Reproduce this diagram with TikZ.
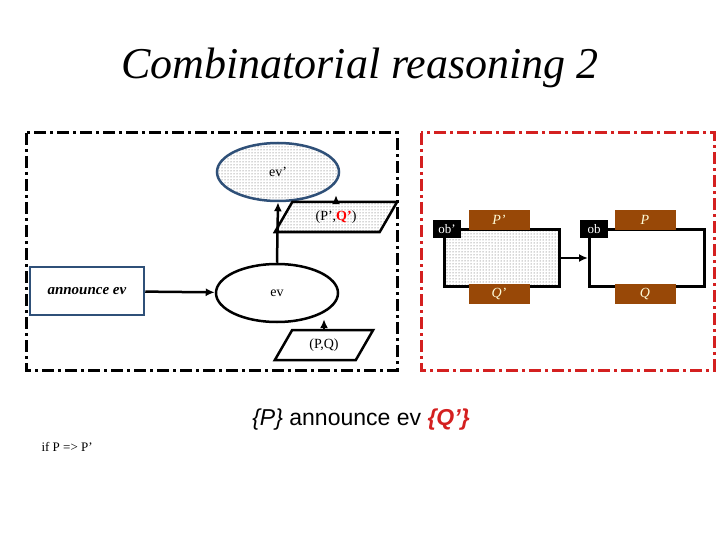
\documentclass[tikz,border=0pt]{standalone}
\usepackage{fontspec}
\setmainfont{Liberation Serif}
\newfontfamily\arialfont{Liberation Sans}
\usetikzlibrary{positioning}
\usetikzlibrary{shapes.geometric}
\usetikzlibrary{patterns}
\usetikzlibrary{arrows.meta}
\definecolor{boxblue}{HTML}{2F5078}
\definecolor{brownlab}{HTML}{984807}
\definecolor{redline}{HTML}{D42020}
\tikzset{
	frame/.style={line width=3pt,dash pattern=on 12pt off 4pt on 3pt off 4pt},
	dotfill/.style={pattern=dots,pattern color=black!70},
	event/.style={draw,ellipse,line width=2.5pt,minimum width=122pt,minimum height=58pt,font=\fontsize{14}{16}\selectfont},
	para/.style={draw,trapezium,trapezium left angle=60,trapezium right angle=120,line width=2.5pt,minimum width=92pt,minimum height=30pt,inner sep=1pt,font=\fontsize{14}{16}\selectfont},
	cond/.style={fill=brownlab,text=yellow!15,font=\itshape\fontsize{14}{16}\selectfont,minimum width=61pt,minimum height=20pt,inner sep=0pt},
	tag/.style={fill=black,text=white,font=\fontsize{13}{15}\selectfont,minimum width=28pt,minimum height=18pt,inner sep=0pt},
	obj/.style={draw,line width=3pt,minimum width=115pt,minimum height=57pt,inner sep=0pt},
	arr/.style={-{Latex[length=9pt,width=8pt]},line width=2.5pt}
}
\begin{document}
\begin{tikzpicture}[x=1pt,y=-1pt]
		\useasboundingbox (0,0) rectangle (720,540);
		\node at (360,68) {\fontsize{44}{50}\selectfont\itshape Combinatorial reasoning 2};

		% left and right frames
		\draw [frame] (26,133) rectangle (397,370);
		\draw [frame,redline] (421,133) rectangle (714,370);

		\node [event,draw=boxblue,dotfill] (evp) at (278,172) {ev’};
		\node [event] (ev) at (277,293) {ev};
		\node [para,dotfill] (pqp) at (336,217) {(P’,\textcolor{red}{\textbf{Q’}})};
		\node [para] (pq) at (324,345) {(P,Q)};
		\node [draw=boxblue,line width=2.5pt,minimum width=114pt,minimum height=48pt,font=\fontsize{15}{17}\selectfont] (ann) at (87,291) {\textbf{\textit{announce ev}}};

		\draw [arr] (ann) -- (ev);
		\draw [arr] (ev.north) -- (evp.south);
		\draw [arr] (pqp.north) -- (pqp.north |- evp.-30);
		\draw [arr] (pq.north) -- (pq.north |- ev.-40);

		% objects
		\node [obj,dotfill] (obp) at (502,258) {};
		\node [obj] (ob) at (647,258) {};
		\draw [arr] (obp) -- (ob);
		\node [cond] at (499,220) {P’};
		\node [cond] at (499,294) {Q’};
		\node [cond] at (645,220) {P};
		\node [cond] at (645,294) {Q};
		\node [tag] at (447,229) {ob’};
		\node [tag] at (594,229) {ob};

		\node at (361,420) {\arialfont\fontsize{23}{27}\selectfont\textit{\{P\}} announce ev \textcolor{redline}{\textbf{\textit{\{Q’\}}}}};
		\node [anchor=west] at (38,447) {\fontsize{13}{15}\selectfont if P => P’};
\end{tikzpicture}
\end{document}
